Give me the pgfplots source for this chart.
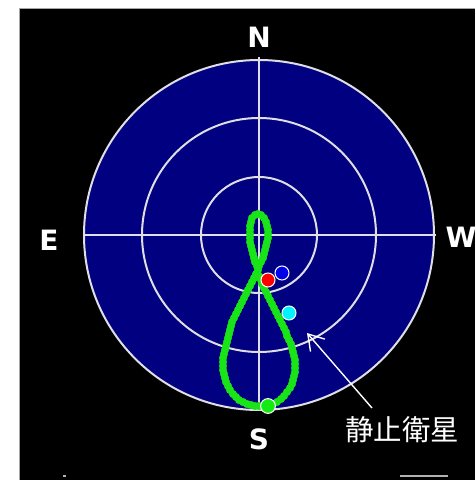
\documentclass[border=0pt]{standalone}
\usepackage{pgfplots}
\pgfplotsset{compat=1.18}
\usepackage{pgfplotstable}
\usepackage{fontspec}
\setmainfont{DejaVu Sans}
\newfontfamily\cjk{Noto Sans CJK JP}
\usetikzlibrary{arrows.meta}
\definecolor{skynavy}{RGB}{0,0,128}
\definecolor{gridc}{RGB}{222,222,228}
\definecolor{ana}{RGB}{24,228,24}
\definecolor{satblue}{RGB}{0,0,235}
\definecolor{satcyan}{RGB}{0,245,255}
\definecolor{satgreen}{RGB}{20,235,20}

% analemma points (x = east-west offset, y = north-south offset; pixel units from zenith)
\pgfplotstableread{
x y
-1 -35
-2 -31
-4 -27
-5 -23
-6 -19
-7 -15
-8 -11
-9 -7
-9 -3
-9 1
-9 5
-9 9
-8 13
-7 17
-4 20
-1 21
2 20
5 17
7 13
8 9
9 5
9 1
9 -3
8 -7
7 -11
6 -15
5 -19
4 -23
2 -27
0 -31
-3 -39
-5 -43
-7 -47
-9 -51
-11 -55
-13 -59
-15 -63
-17 -67
-19 -71
-21 -75
-23 -79
-25 -83
-27 -87
-28 -91
-29 -95
-30 -99
-31 -103
-32 -107
-33 -111
-34 -115
-35 -119
-36 -123
-36 -127
-36 -131
-36 -135
-35 -139
-34 -143
-33 -147
-31 -151
-29 -155
-26 -159
-23 -162
-20 -165
-16 -167
-12 -169
-8 -170
-4 -171
0 -171
4 -171
14 -169
18 -167
22 -164
25 -161
28 -157
31 -153
33 -149
34 -145
35 -141
36 -137
36 -133
36 -129
36 -125
35 -121
34 -117
33 -113
32 -109
30 -105
28 -101
27 -97
25 -93
23 -89
21 -85
19 -81
17 -77
15 -73
13 -69
11 -65
9 -61
7 -57
5 -53
3 -49
2 -45
0 -41
}\analemma

\begin{document}
\begin{tikzpicture}
\begin{axis}[
  scale only axis, width=475pt, height=480pt,
  xmin=-259, xmax=216, ymin=-245, ymax=235,
  hide axis, clip=true,
]
% background
\fill[white] (axis cs:-259,-245) rectangle (axis cs:216,235);
\fill[black] (axis cs:-239.5,-245) rectangle (axis cs:216,227);
\draw[gray!70, line width=0.8pt] (axis cs:-239.5,-245) -- (axis cs:-239.5,227) -- (axis cs:216,227);
\draw[gray!60, line width=1.2pt] (axis cs:-196,-241) -- (axis cs:-193,-241);
\draw[gray!60, line width=1.2pt] (axis cs:141,-241) -- (axis cs:189,-241);
% sky disc
\fill[skynavy] (axis cs:0,0) circle[radius=175];
\draw[gridc, line width=2pt] (axis cs:0,0) circle[radius=58];
\draw[gridc, line width=2pt] (axis cs:0,0) circle[radius=117];
\draw[gridc, line width=2pt] (axis cs:0,0) circle[radius=175];
\draw[gridc, line width=2pt] (axis cs:-176,0) -- (axis cs:177,0);
\draw[gridc, line width=2pt] (axis cs:0,-174) -- (axis cs:0,178);
% analemma
\addplot[only marks, mark=*, mark size=3.8pt, color=ana] table[x=x,y=y] {\analemma};
% satellites
\addplot[only marks, mark=*, mark size=7pt, mark options={draw=white, fill=satblue, line width=1pt}] coordinates {(23,-38)};
\addplot[only marks, mark=*, mark size=7pt, mark options={draw=white, fill=red, line width=1pt}] coordinates {(9,-45)};
\addplot[only marks, mark=*, mark size=7pt, mark options={draw=white, fill=satcyan, line width=1pt}] coordinates {(30,-78)};
\addplot[only marks, mark=*, mark size=7.4pt, mark options={draw=white, fill=satgreen, line width=1pt}] coordinates {(9,-171)};
% arrow and labels
\draw[white, line width=1.4pt, -{Straight Barb[length=15pt,width=19pt]}] (axis cs:113,-173) -- (axis cs:48,-98);
\node[white, font=\fontsize{28}{30}\selectfont\bfseries] at (axis cs:0,198) {N};
\node[white, font=\fontsize{28}{30}\selectfont\bfseries] at (axis cs:0,-204) {S};
\node[white, font=\fontsize{28}{30}\selectfont\bfseries] at (axis cs:-210,-5) {E};
\node[white, font=\fontsize{28}{30}\selectfont\bfseries] at (axis cs:202,-2) {W};
\node[white, font=\cjk\fontsize{28.5}{30}\selectfont] at (axis cs:143,-195) {静止衛星};
\end{axis}
\pgfresetboundingbox
\useasboundingbox (current axis.south west) rectangle (current axis.north east);
\end{tikzpicture}
\end{document}
